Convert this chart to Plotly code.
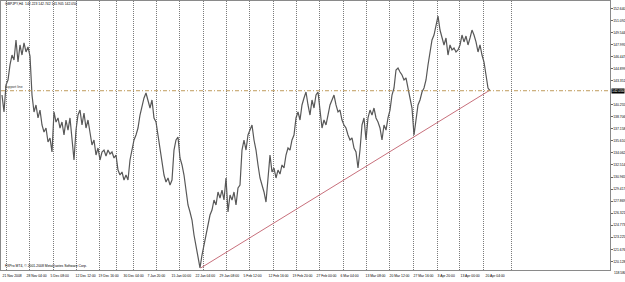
import plotly.graph_objects as go

# ---------------- data (GBPJPY, H4 close, sampled) ----------------
close = [
    141.50, 139.32, 142.79, 143.43, 145.36, 146.64, 146.00, 148.57, 145.74, 147.93,
    146.64, 148.19, 147.03, 147.67, 146.51, 141.50, 139.32, 140.22, 138.55, 139.57,
    137.65, 136.75, 137.26, 135.46, 135.98, 134.18, 139.32, 138.03, 138.55, 137.26,
    138.03, 136.36, 138.29, 137.00, 138.55, 135.72, 133.15, 137.00, 138.93, 139.57,
    137.65, 139.19, 137.26, 138.29, 136.36, 135.08, 135.72, 133.79, 134.69, 133.15,
    134.18, 134.43, 133.66, 134.43, 133.92, 134.18, 133.41, 133.79, 131.86, 131.22,
    131.61, 130.58, 131.22, 130.58, 133.15, 134.43, 135.72, 136.36, 137.26, 138.93,
    140.22, 141.12, 141.76, 140.60, 139.83, 140.86, 138.55, 138.03, 136.36, 134.43,
    132.51, 131.22, 130.32, 130.84, 129.94, 130.58, 134.43, 135.72, 136.11, 133.41,
    132.51, 131.22, 129.29, 127.37, 126.47, 125.44, 123.51, 122.23, 120.94, 119.30,
    120.94, 122.23, 123.51, 124.80, 126.08, 126.72, 128.01, 127.37, 129.04, 128.27,
    129.29, 128.01, 130.84, 126.47, 128.65, 128.01, 129.04, 127.37, 129.55, 129.94,
    134.43, 135.72, 134.43, 136.36, 137.00, 137.65, 135.72, 134.43, 132.51, 130.84,
    129.94, 129.04, 127.75, 131.22, 133.79, 131.61, 132.12, 130.84, 131.86, 131.35,
    132.51, 132.12, 133.79, 134.69, 134.43, 135.72, 136.36, 138.55, 139.32, 138.29,
    140.22, 141.12, 141.89, 140.22, 138.93, 140.86, 139.83, 141.50, 141.89, 139.57,
    137.26, 138.29, 137.65, 138.93, 140.22, 140.86, 141.50, 140.22, 139.32, 139.57,
    138.29, 137.65, 137.26, 136.36, 135.72, 135.98, 134.69, 134.18, 132.12, 134.43,
    137.65, 138.55, 135.72, 138.55, 139.57, 138.93, 139.83, 138.55, 138.03, 137.26,
    135.72, 137.65, 137.00, 138.55, 139.57, 141.50, 142.40, 144.71, 144.97, 144.46,
    144.07, 143.43, 143.69, 142.40, 140.86, 139.83, 136.36, 138.55, 140.22, 140.86,
    141.89, 142.40, 143.43, 145.36, 147.28, 148.57, 149.21, 150.50, 151.65, 149.85,
    148.83, 147.93, 148.83, 146.64, 147.93, 147.28, 147.54, 147.03, 147.28, 147.93,
    149.21, 148.32, 149.08, 147.93, 148.83, 149.85, 149.21, 148.32, 147.03, 147.93,
    146.64, 145.74, 144.07, 142.40, 142.05,
]

current_price = 142.05
trend_x = [99.35, 243.5]
trend_y = [119.27, 142.05]

date_labels = ["21 Nov 2008", "28 Nov 04:00", "5 Dec 08:00", "12 Dec 12:00", "19 Dec 16:00",
               "30 Dec 04:00", "7 Jan 20:00", "15 Jan 00:00", "22 Jan 04:00", "29 Jan 08:00",
               "5 Feb 12:00", "12 Feb 16:00", "19 Feb 20:00", "27 Feb 00:00", "6 Mar 04:00",
               "13 Mar 08:00", "20 Mar 12:00", "27 Mar 16:00", "3 Apr 20:00", "13 Apr 00:00",
               "20 Apr 04:00"]
date_pos = [0, 12, 24, 36.5, 48, 60.5, 72.5, 84.5, 96.5, 108.5, 120.5, 133, 145, 157, 169,
            181.5, 193.5, 205.5, 217.5, 229, 241.5]
grid_pos = [2, 13.5, 25.5, 37, 48.5, 57, 65.5, 77, 88.5, 100.5, 112, 123.5, 135.5, 147,
            158.5, 170.5, 182, 193.5, 205.5, 217.5, 228.5, 240.5, 254.5]

price_ticks = [152.640, 151.092, 149.544, 147.995, 146.447, 144.899, 143.351, 140.255,
               138.706, 137.158, 135.610, 134.062, 132.514, 130.965, 129.417, 127.869,
               126.321, 124.773, 123.225, 121.676, 120.128]
bottom_tick = 118.580

header = "GBPJPY,H4  142.223 142.742 141.905 142.050"
copyright_txt = "FXPro MT4, © 2001-2008 MetaQuotes Software Corp."

FONT = "Liberation Sans"
FS = 3.4
W, H = 625, 282
ML, MR, MT, MB = 1, 15, 1, 12
Y0, Y1 = 119.016, 153.58

fig = go.Figure()
fig.add_trace(go.Scatter(x=list(range(len(close))), y=close, mode="lines",
                         line=dict(color="#585858", width=1.2), hoverinfo="skip"))
fig.add_trace(go.Scatter(x=trend_x, y=trend_y, mode="lines",
                         line=dict(color="#c8707c", width=1), hoverinfo="skip"))

fig.add_hline(y=current_price, line=dict(color="#b8904a", width=0.9, dash="4px,2px,1px,2px"))

fig.update_layout(
    width=W, height=H, margin=dict(l=ML, r=MR, t=MT, b=MB, autoexpand=False),
    paper_bgcolor="white", plot_bgcolor="white", showlegend=False,
    font=dict(family=FONT, size=FS, color="#000000"),
    xaxis=dict(range=[-0.5, 304], showgrid=False, zeroline=False,
               tickvals=date_pos, ticktext=date_labels, ticklabelposition="outside right",
               tickangle=0, ticks="", ticklen=0, ticklabelstandoff=2,
               tickfont=dict(size=FS, family=FONT),
               showline=True, mirror=True, linecolor="#8a8a8a", linewidth=1,
               minor=dict(tickvals=grid_pos, showgrid=True, griddash="1px,1px",
                          gridcolor="#7a7a7a", gridwidth=0.8, ticks="")),
    yaxis=dict(range=[Y0, Y1], side="right", showgrid=False, zeroline=False,
               tickvals=price_ticks, ticktext=[f"{v:.3f}" for v in price_ticks],
               ticks="outside", ticklen=1.5, tickcolor="#666",
               tickfont=dict(size=FS, family=FONT),
               showline=True, mirror=True, linecolor="#8a8a8a", linewidth=1),
)

ph = H - MT - MB
def py(px):
    return (H - MB - px) / ph

fig.add_annotation(xref="paper", yref="paper", x=0.003, y=py(4.5), text=header,
                   showarrow=False, xanchor="left", yanchor="middle",
                   font=dict(size=FS, family=FONT, color="#000"))
fig.add_annotation(xref="paper", yref="paper", x=0.003, y=py(266), text=copyright_txt,
                   showarrow=False, xanchor="left", yanchor="middle",
                   font=dict(size=FS, family=FONT, color="#000"))
fig.add_annotation(xref="paper", yref="y", x=0.004, y=current_price, text="support line",
                   showarrow=False, xanchor="left", yanchor="bottom",
                   font=dict(size=FS, family=FONT, color="#333"))
fig.add_annotation(xref="paper", yref="y", x=1.0, xshift=1, y=current_price,
                   text=f"{current_price:.3f}", showarrow=False, xanchor="left",
                   yanchor="middle", bgcolor="#000", borderpad=0,
                   font=dict(size=FS, family=FONT, color="#fff"))
fig.add_annotation(xref="paper", yref="paper", x=1.0, xshift=2, y=py(273),
                   text=f"{bottom_tick:.3f}", showarrow=False, xanchor="left",
                   yanchor="middle", font=dict(size=FS, family=FONT, color="#000"))

fig.write_html("out.html")
